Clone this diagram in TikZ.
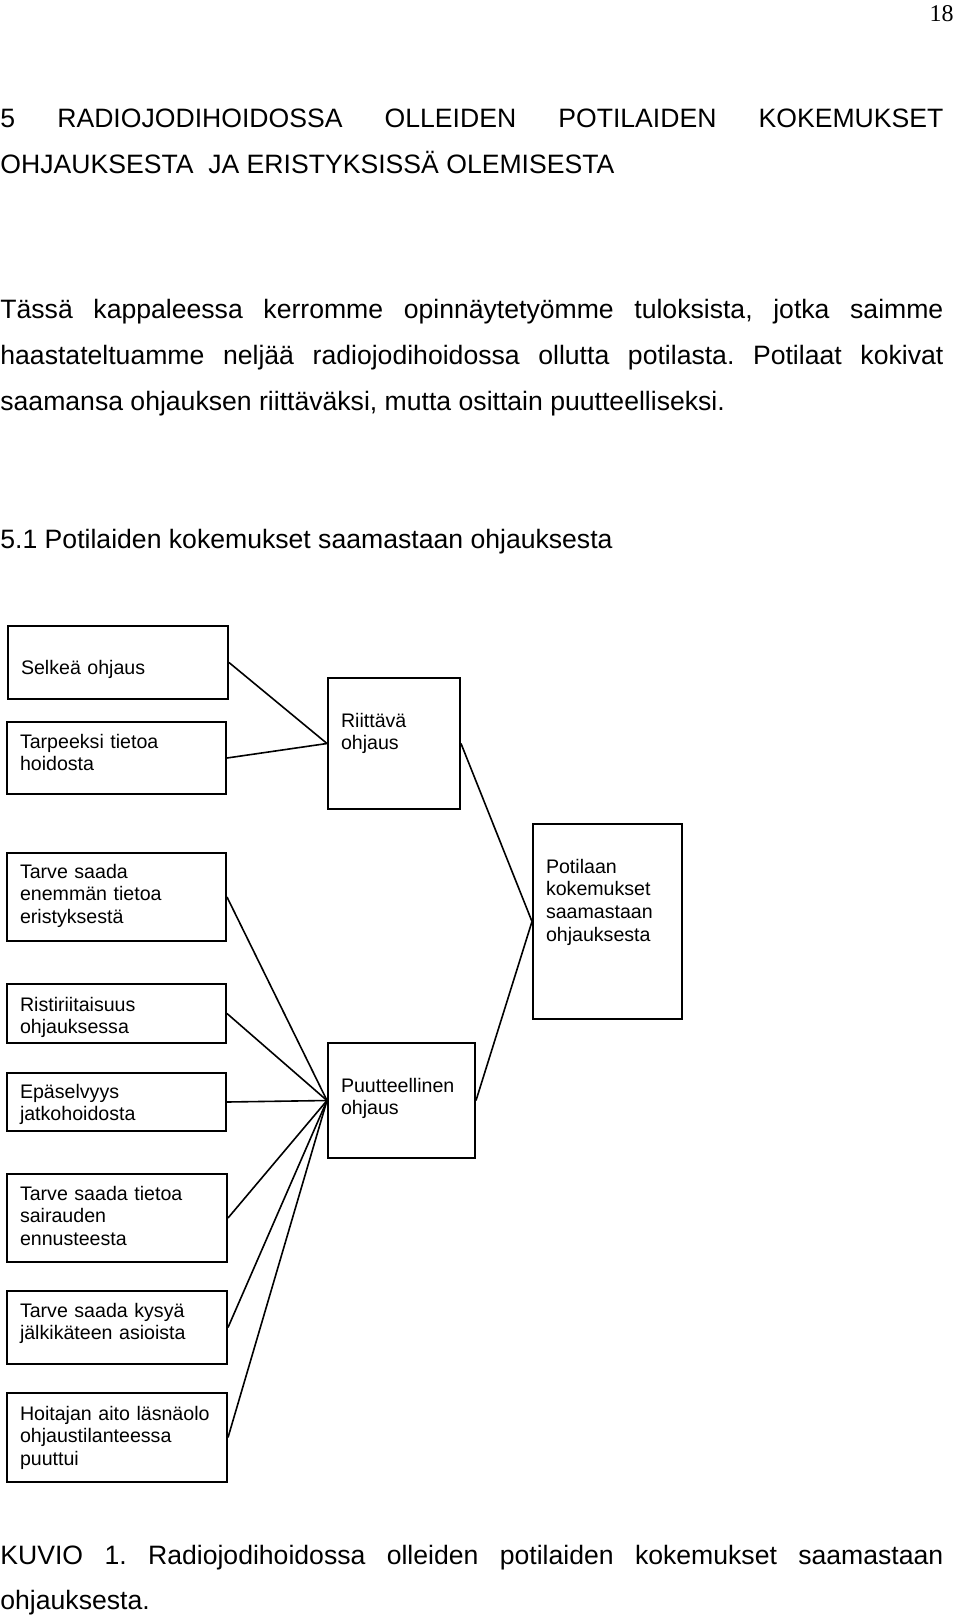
\documentclass[tikz,border=0pt]{standalone}
\usepackage{fontspec}
\setmainfont{Liberation Sans}
\newfontfamily\pagefont{Liberation Serif}
\newcommand\bodyfont{\fontsize{13.3}{16}\selectfont}
\newcommand\boxfont{\fontsize{9.8}{11.35}\selectfont}
\frenchspacing

\begin{document}
\begin{tikzpicture}
        [%%%%%%%%%%%%%%%%%%%%%%%%%%%%%%
        x=0.5pt, y=-0.5pt,
        box/.style={draw, line width=1pt, anchor=north west, align=left,
          inner xsep=6.5pt, inner ysep=0pt, font=\boxfont},
        link/.style={line width=.8pt},
        txt/.style={anchor=base west, inner sep=0pt, font=\bodyfont},
        ]%%%%%%%%%%%%%%%%%%%%%%%%%%%%%%
        \path[use as bounding box, fill=white] (0,0) rectangle (960,1617);
        % Page number
        \node[anchor=base east, inner sep=0pt, font=\pagefont\fontsize{12}{14}\selectfont] (sivu) at (954,21) {18};
        % Text
        \node[txt] (otsikko1) at (0,127) {\makebox[471.5pt][s]{5 RADIOJODIHOIDOSSA OLLEIDEN POTILAIDEN KOKEMUKSET}};
        \node[txt] (otsikko2) at (0,173) {OHJAUKSESTA\ \ JA ERISTYKSISSÄ OLEMISESTA};
        \node[txt] (kpl1) at (0,318) {\makebox[471.5pt][s]{Tässä kappaleessa kerromme opinnäytetyömme tuloksista, jotka saimme}};
        \node[txt] (kpl2) at (0,364) {\makebox[471.5pt][s]{haastateltuamme neljää radiojodihoidossa ollutta potilasta. Potilaat kokivat}};
        \node[txt] (kpl3) at (0,410) {saamansa ohjauksen riittäväksi, mutta osittain puutteelliseksi.};
        \node[txt] (alaotsikko) at (0,548) {5.1 Potilaiden kokemukset saamastaan ohjauksesta};
        % Boxes
        \node[box, text width=97pt, text height=24pt, text depth=12.5pt] (selkea) at (7,625) {Selkeä ohjaus};
        \node[box, text width=96.5pt, text height=13pt, text depth=23pt] (tarpeeksi) at (6,721) {Tarpeeksi tietoa\\hoidosta};
        \node[box, text width=53pt, text height=24.5pt, text depth=41pt] (riittava) at (327,677) {Riittävä\\ohjaus};
        \node[box, text width=96.5pt, text height=12.5pt, text depth=31.5pt] (enemman) at (6,852) {Tarve saada\\enemmän tietoa\\eristyksestä};
        \node[box, text width=61.5pt, text height=24.5pt, text depth=73pt] (potilaan) at (532,823) {Potilaan\\kokemukset\\saamastaan\\ohjauksesta};
        \node[box, text width=96.5pt, text height=13.5pt, text depth=16pt] (risti) at (6,983) {Ristiriitaisuus\\ohjauksessa};
        \node[box, text width=96.5pt, text height=12.5pt, text depth=16.5pt] (epaselvyys) at (6,1072) {Epäselvyys\\jatkohoidosta};
        \node[box, text width=60.5pt, text height=24.5pt, text depth=33pt] (puutteellinen) at (327,1042) {Puutteellinen\\ohjaus};
        \node[box, text width=97pt, text height=13pt, text depth=31pt] (tietoa) at (6,1173) {Tarve saada tietoa\\sairauden\\ennusteesta};
        \node[box, text width=97pt, text height=13pt, text depth=23.5pt] (kysya) at (6,1290) {Tarve saada kysyä\\jälkikäteen asioista};
        \node[box, text width=97pt, text height=13.5pt, text depth=31pt] (hoitajan) at (6,1392) {Hoitajan aito läsnäolo\\ohjaustilanteessa\\puuttui};
        % Lines
        \foreach \a in {selkea,tarpeeksi}
          \draw[link] (\a.east) -- (riittava.west);
        \foreach \a in {riittava,puutteellinen}
          \draw[link] (\a.east) -- (potilaan.west);
        \foreach \a in {enemman,risti,epaselvyys,tietoa,kysya,hoitajan}
          \draw[link] (\a.east) -- (puutteellinen.west);
        % Caption
        \node[txt] (kuvio1) at (0,1564) {\makebox[471.5pt][s]{KUVIO 1. Radiojodihoidossa olleiden potilaiden kokemukset saamastaan}};
        \node[txt] (kuvio2) at (0,1609) {ohjauksesta.};
      \end{tikzpicture}
\end{document}
